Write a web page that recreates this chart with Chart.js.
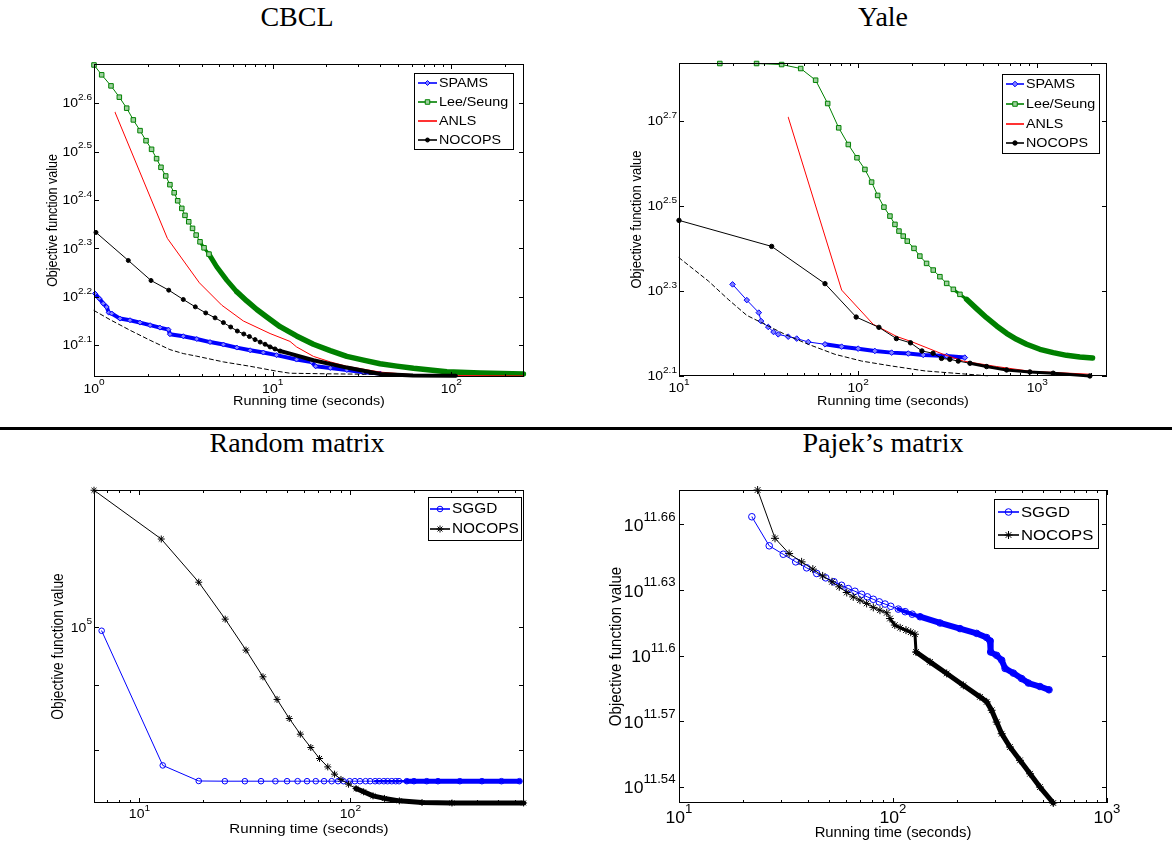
<!DOCTYPE html>
<html>
<head>
<meta charset="utf-8">
<script src="https://cdn.jsdelivr.net/npm/chart.js@4.4.1/dist/chart.umd.min.js"></script>
<style>
html,body{margin:0;padding:0;background:#fff;}
body{width:1172px;height:842px;position:relative;overflow:hidden;}
canvas{position:absolute;}
.title{position:absolute;width:400px;text-align:center;font-family:"Liberation Serif","Times New Roman",serif;font-size:28px;line-height:28px;color:#000;white-space:nowrap;}
#sep{position:absolute;left:0;top:427px;width:1172px;height:3px;background:#000;}
</style>
</head>
<body>
<div class="title" style="left:97px;top:3px">CBCL</div>
<div class="title" style="left:683px;top:3px">Yale</div>
<div class="title" style="left:97px;top:429px">Random matrix</div>
<div class="title" style="left:683px;top:429px">Pajek’s matrix</div>
<canvas id="c1" width="586" height="421" style="left:0;top:0"></canvas>
<canvas id="c2" width="586" height="421" style="left:586px;top:0"></canvas>
<canvas id="c3" width="586" height="421" style="left:0;top:421px"></canvas>
<canvas id="c4" width="586" height="421" style="left:586px;top:421px"></canvas>
<div id="sep"></div>
<script>
// ================= DATA =================
// ---- CBCL ----
const cbclSpamsTime  = [1.013, 1.071, 1.127, 1.178, 1.21, 1.256, 1.398, 1.59, 1.81, 2.06, 2.34, 2.61, 2.66, 3.16, 3.76, 4.46, 5.30, 6.30, 7.48, 8.87, 10.5, 13.6, 16.5, 17.4, 21, 26, 32.2, 40];
const cbclSpamsValue = [161.0, 157.2, 153.5, 151.0, 147.0, 146.4, 142.9, 141.8, 140.2, 138.5, 136.9, 135.6, 132.7, 131.4, 129.7, 127.8, 126.3, 124.5, 122.9, 121.6, 120.1, 117.6, 116.3, 113.9, 113.0, 111.9, 110.7, 110.0];
const cbclLeeTime  = [1, 1.104, 1.245, 1.386, 1.524, 1.66, 1.81, 1.955, 2.10, 2.24, 2.37, 2.52, 2.66, 2.81, 2.94, 3.10, 3.23, 3.39, 3.56, 3.73, 3.92, 4.13, 4.40, 4.86, 5.53, 6.30, 7.16, 8.15, 9.27, 11.0, 13.6, 16.9, 21.0, 26.0, 32.2, 39.9, 49.5, 61.4, 76.1, 94.4, 145, 253];
const cbclLeeValue = [477.5, 455.6, 432.3, 409.7, 388.8, 367.7, 349.4, 333.1, 319.7, 305.8, 293.5, 281.6, 270.2, 260.0, 250.3, 241.4, 233.5, 226.5, 219.5, 212.6, 205.9, 200.1, 194.2, 182.8, 171.6, 162.3, 155.4, 149.2, 144.0, 137.5, 131.6, 126.5, 122.7, 119.4, 117.3, 115.3, 114.0, 112.8, 111.9, 111.0, 110.3, 109.8];
const cbclAnlsTime  = [1.311, 2.574, 3.89, 5.19, 6.85, 9.67, 12.5, 13.6, 16.9, 21, 26, 40, 61, 94, 253];
const cbclAnlsValue = [381.4, 209.3, 169.4, 152.3, 141.3, 133.1, 128.2, 124.9, 119.4, 116.3, 113.9, 110.8, 109.4, 109.0, 108.8];
const cbclNocopsTime  = [1.026, 1.556, 2.085, 2.62, 3.16, 3.69, 4.22, 4.76, 5.30, 5.82, 6.34, 6.89, 7.41, 7.97, 8.51, 9.06, 9.67, 10.3, 11.0, 12.5, 16.9, 26, 40, 61, 106];
const cbclNocopsValue = [215.3, 188.4, 171.3, 163.6, 156.5, 151.1, 146.8, 143.4, 140.2, 137.3, 134.7, 132.8, 131.2, 129.3, 127.8, 126.5, 124.9, 123.7, 122.5, 121.0, 117.2, 113.2, 109.8, 109.0, 108.9];
const cbclBoundTime  = [1.0, 1.229, 1.59, 2.06, 2.66, 3.16, 3.76, 5.30, 7.48, 10.5, 12.5, 20, 41];
const cbclBoundValue = [148.5, 142.2, 135.2, 128.9, 123.3, 121.0, 119.5, 116.3, 113.9, 111.3, 110.2, 109.9, 109.6];
const cbclXTickExp = ['0', '1', '2'];
const cbclYTickExp = ['2.1', '2.2', '2.3', '2.4', '2.5', '2.6'];

// ---- Yale ----
const yaleSpamsTime  = [19.9, 23.9, 27.9, 28.7, 31.5, 33.7, 35.8, 40.7, 45.4, 52.7, 65.3, 80.9, 100.1, 124, 153.8, 190.5, 230.8, 312, 394];
const yaleSpamsValue = [206.9, 190.0, 177.5, 169.6, 164.2, 159.8, 157.8, 155.8, 154.2, 151.4, 149.5, 147.6, 146.0, 144.2, 142.9, 142.2, 141.1, 140.3, 139.1];
const yaleLeeTime  = [16.9, 27.1, 37.4, 47.8, 57.9, 67.6, 77.9, 88.1, 98.5, 109.1, 118.9, 128.5, 139.3, 150.5, 160.5, 169, 178.5, 188, 205, 221, 241, 262.5, 286, 312, 340, 370, 403, 458, 521, 593, 674, 766, 872, 1034, 1227, 1456, 1729, 2035];
const yaleLeeValue = [685.2, 685.2, 681.4, 666.8, 625.9, 551.6, 483.5, 441.7, 411.1, 385.8, 360.2, 335.1, 314.5, 299.6, 286.4, 276.2, 268.8, 261.6, 251.5, 241.2, 231.8, 223.6, 215.7, 208.0, 201.4, 196.0, 190.8, 181.4, 172.7, 165.1, 158.7, 153.6, 149.5, 145.5, 142.9, 140.8, 139.6, 138.8];
const yaleAnlsTime  = [40.7, 80.9, 121.4, 132.3, 164, 200, 298.5, 386, 593, 909, 1966];
const yaleAnlsValue = [512.2, 200.6, 166.6, 163.6, 156.0, 151.5, 141.6, 136.5, 132.5, 129.2, 127.1];
const yaleNocopsTime  = [10, 32.9, 65.3, 97.5, 130.6, 163.5, 196, 227, 262, 292, 325, 362, 421, 521, 674, 909, 1227, 1966];
const yaleNocopsValue = [292.7, 254.2, 207.7, 173.3, 163.9, 154.2, 150.7, 144.2, 142.4, 138.5, 137.8, 136.5, 134.9, 132.5, 130.1, 128.7, 127.8, 125.9];
const yaleBoundTime  = [10, 14.6, 18.8, 23.9, 28.9, 39, 52.7, 74.2, 104.6, 153.8, 236, 545];
const yaleBoundValue = [239.1, 210.6, 190.8, 174.9, 168.1, 157.8, 149.5, 141.6, 136.5, 132.9, 129.4, 125.9];
const yaleXTickExp = ['1', '2', '3'];
const yaleYTickExp = ['2.1', '2.3', '2.5', '2.7'];

// ---- Random matrix ----
const randSggdTime  = [6.62, 12.9, 19.1, 25.4, 31.6, 37.7, 44.1, 50.1, 56.2, 62.3, 68.5, 75.0, 81.5, 87.4, 92.8, 99.2, 105, 111, 118, 124, 131, 137, 144, 150, 157, 164, 170, 185, 200, 230, 260, 330, 420, 520, 633];
const randSggdValue = [99290, 77840, 75680, 75650, 75650, 75650, 75650, 75650, 75650, 75650, 75650, 75650, 75650, 75650, 75650, 75650, 75650, 75650, 75650, 75650, 75650, 75650, 75650, 75650, 75650, 75650, 75650, 75650, 75650, 75650, 75650, 75650, 75650, 75650, 75650];
const randNocopsTime  = [6.09, 12.69, 19.1, 25.5, 32.0, 38.5, 44.9, 51.3, 57.9, 64.9, 71.4, 78.1, 84.1, 90.2, 98, 106.4, 115.5, 128, 145, 170.6, 218.5, 303, 662];
const randNocopsValue = [128000, 117200, 108400, 101400, 95880, 91360, 87700, 84730, 82360, 80400, 78820, 77630, 76620, 75890, 75240, 74650, 74210, 73670, 73330, 73010, 72790, 72730, 72730];
const randXTickExp = ['1', '2'];
const randYTickExp = ['5'];
const randYMinorTicks = [80000, 90000];

// ---- Pajek's matrix ----
const pajekSggdTime  = [21.9, 26.4, 30.7, 35.1, 39.5, 44.0, 48.5, 53.0, 57.5, 61.8, 66.4, 71.4, 75.9, 80.9, 86.3, 91.8, 97.6, 105.9, 114, 123, 133.7, 165.8, 205.6, 246, 274, 284, 286, 305, 322, 334, 365, 399, 429, 486, 536];
const pajekSggdValue = [4.6079e11, 4.4692e11, 4.4298e11, 4.3944e11, 4.3669e11, 4.3410e11, 4.3211e11, 4.3032e11, 4.2874e11, 4.2725e11, 4.2606e11, 4.2470e11, 4.2355e11, 4.2247e11, 4.2132e11, 4.2036e11, 4.1937e11, 4.1813e11, 4.1700e11, 4.1590e11, 4.1479e11, 4.1208e11, 4.0965e11, 4.0759e11, 4.0580e11, 4.0440e11, 3.9967e11, 3.9829e11, 3.9628e11, 3.9281e11, 3.9092e11, 3.8867e11, 3.8685e11, 3.8543e11, 3.8410e11];
const pajekNocopsTime  = [23.3, 28.1, 32.7, 37.4, 42.2, 46.9, 51.9, 56.1, 60.8, 65.2, 70.1, 75.3, 80.9, 86.9, 93.5, 96.8, 102, 108, 115, 121, 126.7, 128.1, 148.9, 178.2, 213.1, 255, 274, 289, 305, 322, 352, 392, 437, 486, 561];
const pajekNocopsValue = [4.7395e11, 4.5046e11, 4.4329e11, 4.3944e11, 4.3609e11, 4.3299e11, 4.3032e11, 4.2805e11, 4.2550e11, 4.2355e11, 4.2208e11, 4.2064e11, 4.1889e11, 4.1765e11, 4.1650e11, 4.1400e11, 4.1117e11, 4.1000e11, 4.0900e11, 4.0810e11, 4.0722e11, 3.9967e11, 3.9555e11, 3.9077e11, 3.8592e11, 3.8126e11, 3.7926e11, 3.7592e11, 3.7128e11, 3.6677e11, 3.6167e11, 3.5663e11, 3.5163e11, 3.4674e11, 3.4098e11];
const pajekXTickExp = ['1', '2', '3'];
const pajekYTickExp = ['11.54', '11.57', '11.6', '11.63', '11.66'];

// ================= RENDERING =================
const SANS = '"Liberation Sans", Arial, Helvetica, sans-serif';
const BLUE = '#0000ff', GREEN = '#008000', RED = '#ff0000', BLACK = '#000000';

function textAt(ctx, text, x, y, size, sx, align, baseline) {
  ctx.save();
  ctx.font = size + 'px ' + SANS;
  ctx.textAlign = align; ctx.textBaseline = baseline;
  ctx.translate(x, y); ctx.scale(sx, 1);
  ctx.fillText(text, 0, 0);
  ctx.restore();
}
function textW(ctx, text, size, sx) {
  ctx.save(); ctx.font = size + 'px ' + SANS;
  const w = ctx.measureText(text).width * sx; ctx.restore(); return w;
}
function drawPower(ctx, exp, x, y, f, align) {
  const wb = textW(ctx, '10', f.base, f.sx), we = textW(ctx, exp, f.sup, f.sx);
  const x0 = align === 'right' ? x - wb - we : x - (wb + we) / 2;
  textAt(ctx, '10', x0, y, f.base, f.sx, 'left', 'middle');
  textAt(ctx, exp, x0 + wb, y + f.supDy, f.sup, f.sx, 'left', 'middle');
}
function marker(ctx, style, r, x, y, stroke, fill) {
  ctx.save();
  ctx.strokeStyle = stroke; ctx.fillStyle = fill; ctx.lineWidth = 1; ctx.setLineDash([]);
  ctx.beginPath();
  if (style === 'circle') { ctx.arc(x, y, r, 0, Math.PI * 2); ctx.fill(); ctx.stroke(); }
  else if (style === 'rect') { const s = r * Math.SQRT1_2; ctx.rect(x - s, y - s, 2 * s, 2 * s); ctx.fill(); ctx.stroke(); }
  else if (style === 'rectRot') { ctx.moveTo(x, y - r); ctx.lineTo(x + r, y); ctx.lineTo(x, y + r); ctx.lineTo(x - r, y); ctx.closePath(); ctx.fill(); ctx.stroke(); }
  else if (style === 'star') {
    const d = r * Math.SQRT1_2;
    ctx.moveTo(x - r, y); ctx.lineTo(x + r, y); ctx.moveTo(x, y - r); ctx.lineTo(x, y + r);
    ctx.moveTo(x - d, y - d); ctx.lineTo(x + d, y + d); ctx.moveTo(x - d, y + d); ctx.lineTo(x + d, y - d);
    ctx.stroke();
  }
  ctx.restore();
}

const matlabAxes = {
  id: 'matlabAxes',
  afterDatasetsDraw(chart, args, o) {
    const ctx = chart.ctx, a = chart.chartArea, xs = chart.scales.x, ys = chart.scales.y;
    const L = a.left, R = a.right, T = a.top, B = a.bottom;
    ctx.save();
    ctx.fillStyle = '#000'; ctx.strokeStyle = '#000'; ctx.lineWidth = 1; ctx.setLineDash([]);
    // ticks (inward, MATLAB style)
    ctx.beginPath();
    const majorLen = 5, minorLen = 3;
    const xMin = xs.min, xMax = xs.max;
    for (let e = Math.floor(Math.log10(xMin)); e <= Math.ceil(Math.log10(xMax)); e++) {
      for (let k = 1; k <= 9; k++) {
        const v = k * Math.pow(10, e);
        if (v < xMin * 0.999 || v > xMax * 1.001) continue;
        const px = Math.round(xs.getPixelForValue(v)) + 0.5;
        const len = k === 1 ? majorLen : minorLen;
        ctx.moveTo(px, B); ctx.lineTo(px, B - len);
        ctx.moveTo(px, T); ctx.lineTo(px, T + len);
      }
    }
    const yVals = o.yExp.map(s => Math.pow(10, Number(s))).concat(o.yExtra || []);
    yVals.forEach(v => {
      const py = Math.round(ys.getPixelForValue(v)) + 0.5;
      ctx.moveTo(L, py); ctx.lineTo(L + majorLen, py);
      ctx.moveTo(R, py); ctx.lineTo(R - majorLen, py);
    });
    ctx.stroke();
    // box
    ctx.strokeRect(Math.round(L) + 0.5, Math.round(T) + 0.5, Math.round(R - L) - 1, Math.round(B - T) - 1);
    // tick labels
    o.xExp.forEach(s => {
      const px = xs.getPixelForValue(Math.pow(10, Number(s)));
      drawPower(ctx, s, px, B + o.xTickDy, o.tick, 'center');
    });
    o.yExp.forEach(s => {
      const py = ys.getPixelForValue(Math.pow(10, Number(s)));
      drawPower(ctx, s, L - o.yTickGap, py + o.yTickDy, o.tick, 'right');
    });
    // axis titles
    textAt(ctx, 'Running time (seconds)', (L + R) / 2, B + o.xTitleDy, o.titleSize, o.titleSx, 'center', 'alphabetic');
    ctx.save();
    ctx.translate(L - o.yTitleDx, (T + B) / 2); ctx.rotate(-Math.PI / 2);
    ctx.scale(1, o.titleSx);
    ctx.font = o.yTitleSize + 'px ' + SANS; ctx.textAlign = 'center'; ctx.textBaseline = 'middle';
    ctx.fillText('Objective function value', 0, 0);
    ctx.restore();
    // legend box
    const lg = o.legend;
    ctx.fillStyle = '#fff'; ctx.fillRect(lg.x, lg.y, lg.w, lg.h);
    ctx.strokeStyle = '#000'; ctx.strokeRect(lg.x + 0.5, lg.y + 0.5, lg.w, lg.h);
    const items = chart.data.datasets.filter(d => d.label);
    items.forEach((d, i) => {
      const yy = Math.round(lg.rows[i]);
      ctx.save();
      ctx.strokeStyle = d.borderColor; ctx.lineWidth = 1.6; ctx.setLineDash([]);
      ctx.beginPath(); ctx.moveTo(lg.x0, yy); ctx.lineTo(lg.x1, yy); ctx.stroke();
      ctx.restore();
      if (d.legendRadius > 0) marker(ctx, d.pointStyle, d.legendRadius, (lg.x0 + lg.x1) / 2, yy, d.pointBorderColor, d.pointBackgroundColor);
      ctx.fillStyle = '#000';
      textAt(ctx, d.label, lg.tx, yy + 0.5, lg.size, lg.sx, 'left', 'middle');
    });
    ctx.restore();
  }
};

// s.bands: list of [fromTime, lineWidth] pairs, ascending — where dense markers merge into a band
function bandWidth(bands, x) {
  let w = 1;
  for (const b of bands) if (x >= b[0]) w = b[1];
  return w;
}
function series(label, xs, ys, s) {
  const r = s.marker ? s.r : 0;
  const ds = {
    label: label,
    data: xs.map((x, i) => ({ x: x, y: ys[i] })),
    showLine: true,
    borderColor: s.color, backgroundColor: s.color,
    borderWidth: 1, borderDash: s.dash || [],
    borderJoinStyle: 'round', borderCapStyle: 'round',
    pointStyle: s.marker || 'circle',
    pointRadius: s.hideInBand ? (c => (c.raw && c.raw.x > s.hideInBand ? 0 : r)) : r,
    legendRadius: r,
    pointHoverRadius: 0,
    pointBorderColor: s.color,
    pointBackgroundColor: s.fill || 'rgba(255,255,255,0)',
    pointBorderWidth: 1,
    tension: 0, clip: 6, order: s.order
  };
  if (s.bands) {
    ds.segment = { borderWidth: c => bandWidth(s.bands, c.p0.parsed.x) };
  }
  return ds;
}

function makeChart(id, pad, xr, yr, datasets, axes) {
  return new Chart(document.getElementById(id), {
    type: 'scatter',
    data: { datasets: datasets },
    options: {
      responsive: false, animation: false, devicePixelRatio: 1, events: [],
      layout: { padding: pad },
      scales: {
        x: { type: 'logarithmic', min: xr[0], max: xr[1], display: false },
        y: { type: 'logarithmic', min: yr[0], max: yr[1], display: false }
      },
      plugins: { legend: { display: false }, tooltip: { enabled: false }, matlabAxes: axes }
    },
    plugins: [matlabAxes]
  });
}

const smallTick = { base: 12.5, sup: 9, sx: 1.12, supDy: -6.5 };
const LIGHTGREEN = '#9fd09f';

// CBCL
makeChart('c1', { left: 94, top: 64, right: 62, bottom: 44 }, [1, 255], [108.24, 479.7], [
  series('SPAMS', cbclSpamsTime, cbclSpamsValue, { color: BLUE, marker: 'rectRot', r: 2.5, fill: '#8080ff', bands: [[1, 4]], order: 5 }),
  series('Lee/Seung', cbclLeeTime, cbclLeeValue, { color: GREEN, marker: 'rect', r: 3.2, fill: LIGHTGREEN, bands: [[3.9, 3], [4.4, 5], [6.3, 5.5]], hideInBand: 4.5, order: 4 }),
  series('ANLS', cbclAnlsTime, cbclAnlsValue, { color: RED, order: 3 }),
  series('NOCOPS', cbclNocopsTime, cbclNocopsValue, { color: BLACK, marker: 'circle', r: 2, fill: BLACK, bands: [[9, 2.5], [11, 4]], hideInBand: 11, order: 2 }),
  series('', cbclBoundTime, cbclBoundValue, { color: BLACK, dash: [4, 3], order: 1 })
], {
  xExp: cbclXTickExp, yExp: cbclYTickExp, tick: smallTick,
  xTickDy: 12.5, yTickGap: 2, yTickDy: 0.7,
  titleSize: 12.5, titleSx: 1.15, xTitleDy: 28, yTitleSize: 12.5, yTitleDx: 40.6,
  legend: { x: 414, y: 73, w: 99, h: 76, rows: [82.5, 101.5, 120.5, 139.5], x0: 418, x1: 437, tx: 439, size: 13, sx: 1.1 }
});

// Yale
makeChart('c2', { left: 93, top: 63, right: 65, bottom: 45 }, [10, 2450], [125.89, 687.1], [
  series('SPAMS', yaleSpamsTime, yaleSpamsValue, { color: BLUE, marker: 'rectRot', r: 2.8, fill: '#8080ff', bands: [[55, 4]], order: 5 }),
  series('Lee/Seung', yaleLeeTime, yaleLeeValue, { color: GREEN, marker: 'rect', r: 3.2, fill: LIGHTGREEN, bands: [[330, 3], [400, 5.5]], hideInBand: 400, order: 4 }),
  series('ANLS', yaleAnlsTime, yaleAnlsValue, { color: RED, order: 3 }),
  series('NOCOPS', yaleNocopsTime, yaleNocopsValue, { color: BLACK, marker: 'circle', r: 2.2, fill: BLACK, bands: [[400, 3]], order: 2 }),
  series('', yaleBoundTime, yaleBoundValue, { color: BLACK, dash: [4, 3], order: 1 })
], {
  xExp: yaleXTickExp, yExp: yaleYTickExp, tick: smallTick,
  xTickDy: 13, yTickGap: 2, yTickDy: 0.7,
  titleSize: 12.5, titleSx: 1.15, xTitleDy: 29, yTitleSize: 13, yTitleDx: 42.6,
  legend: { x: 416, y: 74, w: 97, h: 79, rows: [84.3, 104, 123.5, 143], x0: 420, x1: 438, tx: 440, size: 13, sx: 1.1 }
});

// Random matrix
makeChart('c3', { left: 94, top: 69, right: 62, bottom: 39 }, [6.09, 665], [72726, 128060], [
  series('SGGD', randSggdTime, randSggdValue, { color: BLUE, marker: 'circle', r: 2.8, bands: [[130, 2.5], [180, 5]], order: 2 }),
  series('NOCOPS', randNocopsTime, randNocopsValue, { color: BLACK, marker: 'star', r: 3.5, bands: [[100, 5]], order: 1 })
], {
  xExp: randXTickExp, yExp: randYTickExp, yExtra: randYMinorTicks, tick: smallTick,
  xTickDy: 12, yTickGap: 2, yTickDy: 1.5,
  titleSize: 13, titleSx: 1.16, xTitleDy: 30, yTitleSize: 13.8, yTitleDx: 35.7,
  legend: { x: 428, y: 76, w: 93, h: 43, rows: [87.5, 108], x0: 430, x1: 450, tx: 452, size: 14, sx: 1.1 }
});

// Pajek's matrix
makeChart('c4', { left: 93, top: 69, right: 65, bottom: 39 }, [10, 1000], [3.4098e11, 4.7395e11], [
  series('SGGD', pajekSggdTime, pajekSggdValue, { color: BLUE, marker: 'circle', r: 3.3, bands: [[105, 4], [130, 6]], order: 2 }),
  series('NOCOPS', pajekNocopsTime, pajekNocopsValue, { color: BLACK, marker: 'star', r: 4, bands: [[96, 3], [127, 5]], order: 1 })
], {
  xExp: pajekXTickExp, yExp: pajekYTickExp, tick: { base: 16, sup: 12, sx: 1.1, supDy: -9 },
  xTickDy: 16, yTickGap: 3.5, yTickDy: 2,
  titleSize: 14, titleSx: 1.06, xTitleDy: 34, yTitleSize: 15, yTitleDx: 62.3,
  legend: { x: 408, y: 78, w: 104, h: 49, rows: [91.3, 114], x0: 412, x1: 433, tx: 435, size: 14.5, sx: 1.15 }
});
</script>
</body>
</html>
